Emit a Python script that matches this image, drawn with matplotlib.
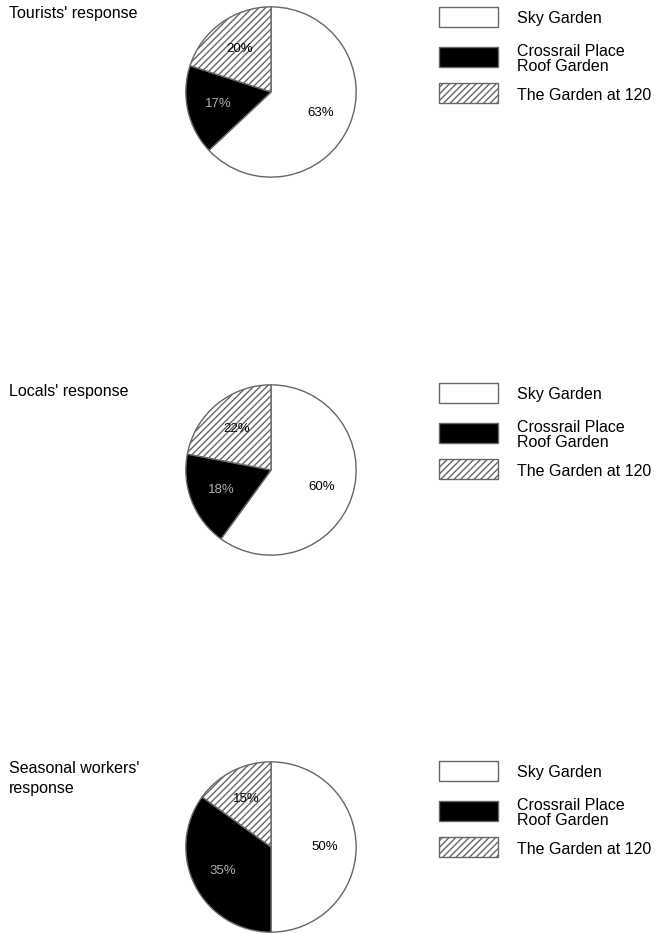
import matplotlib.pyplot as plt
from matplotlib.patches import Rectangle

plt.rcParams['font.family'] = ['Liberation Sans', 'DejaVu Sans']
plt.rcParams['hatch.linewidth'] = 1.0

categories = ['Sky Garden', 'Crossrail Place\nRoof Garden', 'The Garden at 120']
groups = ["Tourists' response", "Locals' response", "Seasonal workers'\nresponse"]
tourists = [63, 17, 20]
locals_ = [60, 18, 22]
seasonal = [50, 35, 15]
values = [tourists, locals_, seasonal]

faces = ['white', 'black', 'white']
hatches = [None, None, '/////']
label_colors = ['black', '#b0b0b0', 'black']
edge = '#666666'

W, H = 660, 934
fig = plt.figure(figsize=(W / 100, H / 100), dpi=100)


def fx(x):
    return x / W


def fy(y):
    return 1 - y / H


centers_y = [92, 470, 847]
radius = 86
offsets = [0, 376, 754]
box_y = [17, 57, 93]   # centres of legend boxes in the first block

for i, (vals, title) in enumerate(zip(values, groups)):
    cy = centers_y[i]
    ax = fig.add_axes([fx(271 - radius), fy(cy + radius),
                       2 * radius / W, 2 * radius / H])
    wedges, texts, autotexts = ax.pie(
        vals, startangle=90, counterclock=False, colors=faces,
        autopct='%d%%', pctdistance=0.63,
        wedgeprops=dict(edgecolor=edge, linewidth=1.0),
        textprops=dict(fontsize=9.5))
    for w, h in zip(wedges, hatches):
        if h:
            w.set_hatch(h)
    for t, c in zip(autotexts, label_colors):
        t.set_color(c)
    ax.set_xlim(-1.01, 1.01)
    ax.set_ylim(-1.01, 1.01)
    ax.set_aspect('equal')

    fig.text(fx(9), fy(cy - 86), title, fontsize=11.5, va='top', ha='left',
             linespacing=1.45)

    # legend block
    off = offsets[i]
    for lab, f, h, by in zip(categories, faces, hatches, box_y):
        c = by + off
        rect = Rectangle((fx(439), fy(c + 10)), 59 / W, 20 / H,
                         transform=fig.transFigure, facecolor=f,
                         edgecolor=edge, hatch=h, linewidth=1.0)
        fig.patches.append(rect)
        fig.text(fx(517), fy(c + 2), lab, fontsize=11.5, va='center',
                 ha='left', linespacing=1.0)

fig.savefig('out.png', dpi=100)
